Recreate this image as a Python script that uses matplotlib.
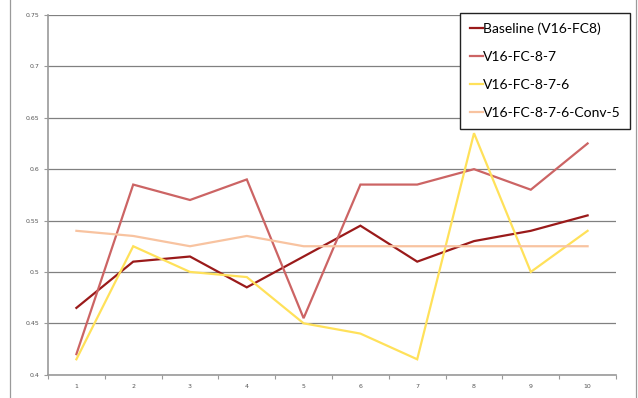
import matplotlib
matplotlib.use("Agg")
import matplotlib.pyplot as plt
from matplotlib.lines import Line2D

runs = ["1", "2", "3", "4", "5", "6", "7", "8", "9", "10"]
baseline = [0.465, 0.510, 0.515, 0.485, 0.515, 0.545, 0.510, 0.530, 0.540, 0.555]
fc_8_7 = [0.420, 0.585, 0.570, 0.590, 0.455, 0.585, 0.585, 0.600, 0.580, 0.625]
fc_8_7_6 = [0.415, 0.525, 0.500, 0.495, 0.450, 0.440, 0.415, 0.635, 0.500, 0.540]
fc_8_7_6_conv5 = [0.540, 0.535, 0.525, 0.535, 0.525, 0.525, 0.525, 0.525, 0.525, 0.525]
y_ticks = [0.4, 0.45, 0.5, 0.55, 0.6, 0.65, 0.7, 0.75]
y_tick_labels = ["0.4", "0.45", "0.5", "0.55", "0.6", "0.65", "0.7", "0.75"]

series = [
    ("Baseline (V16-FC8)", baseline, "#9a1a1a"),
    ("V16-FC-8-7", fc_8_7, "#cc6464"),
    ("V16-FC-8-7-6", fc_8_7_6, "#ffe15a"),
    ("V16-FC-8-7-6-Conv-5", fc_8_7_6_conv5, "#f8c3a0"),
]

W, H = 638, 398
fig = plt.figure(figsize=(W / 100, H / 100), dpi=100)
ax = fig.add_axes([48 / W, 1 - 374.7 / H, 568 / W, 359.7 / H])

x = list(range(1, len(runs) + 1))
for name, vals, col in series:
    ax.plot(x, vals, color=col, lw=1.6, label=name, zorder=3,
            solid_joinstyle="miter")

ax.set_xlim(0.5, len(runs) + 0.5)
ax.set_ylim(0.4, 0.75)
ax.set_yticks(y_ticks)
ax.set_yticklabels(y_tick_labels)
ax.set_xticks(x)
ax.set_xticklabels(runs)
ax.set_xticks([i + 0.5 for i in range(0, len(runs) + 1)], minor=True)

ax.grid(axis="y", color="#808080", lw=0.9, zorder=1)
for s in ["top", "right"]:
    ax.spines[s].set_visible(False)
for s in ["left", "bottom"]:
    ax.spines[s].set_color("#9a9a9a")
    ax.spines[s].set_linewidth(1.2)

ax.tick_params(axis="x", which="major", length=0, labelsize=4.5,
               labelcolor="#555555", pad=7)
ax.tick_params(axis="x", which="minor", length=3, color="#9a9a9a", width=0.8)
ax.tick_params(axis="y", length=3, color="#9a9a9a", width=0.8,
               labelsize=4.5, labelcolor="#555555", pad=3)

# thin gray outer chart frame
fig.add_artist(Line2D([10 / W, 10 / W], [0, 1], color="#9a9a9a", lw=0.9))
fig.add_artist(Line2D([636 / W, 636 / W], [0, 1], color="#9a9a9a", lw=0.9))

leg = ax.legend(loc="upper right", bbox_to_anchor=(630 / W, 1 - 13 / H),
                bbox_transform=fig.transFigure, fancybox=False, framealpha=1,
                edgecolor="#222222", handlelength=0.9, handletextpad=0.0,
                borderpad=0.7, labelspacing=1.15, borderaxespad=0,
                prop={"family": "Lato", "size": 10})
leg.get_frame().set_linewidth(1.0)
leg.set_zorder(5)

fig.savefig("out.png", dpi=100)
